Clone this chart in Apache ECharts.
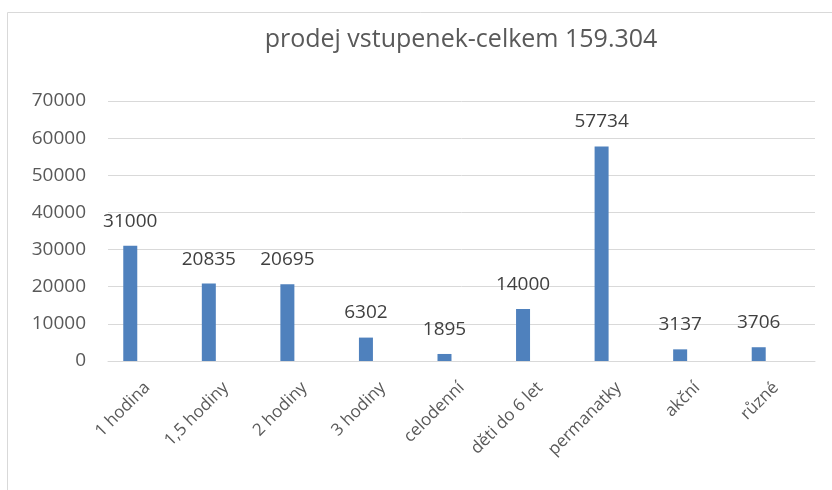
<!DOCTYPE html>
<html>
<head>
<meta charset="utf-8">
<script src="https://cdn.jsdelivr.net/npm/echarts@6/dist/echarts.min.js"></script>
<style>
  html, body { margin: 0; padding: 0; background: #fff; }
  #main { width: 832px; height: 490px; }
</style>
</head>
<body>
<div id="main"></div>
<script>
// kategorie a hodnoty
var categories = ['1 hodina', '1,5 hodiny', '2 hodiny', '3 hodiny', 'celodenní', 'děti do 6 let', 'permanatky', 'akční', 'různé'];
var prodej = [31000, 20835, 20695, 6302, 1895, 14000, 57734, 3137, 3706];
// prázdná řada, v originále posouvá sloupce doleva
var prazdna = [null, null, null, null, null, null, null, null, null];
var yTicks = [0, 10000, 20000, 30000, 40000, 50000, 60000, 70000];

var font = '"Open Sans", "Noto Sans", sans-serif';
var chart = echarts.init(document.getElementById('main'));

chart.setOption({
  animation: false,
  graphic: [{
    type: 'rect',
    shape: { x: 7.5, y: 12.5, width: 900, height: 600 },
    style: { fill: 'none', stroke: '#d9d9d9', lineWidth: 1 },
    silent: true
  }],
  title: {
    text: 'prodej vstupenek-celkem 159.304',
    left: 456,
    textAlign: 'center',
    top: 22,
    textStyle: { fontFamily: font, fontWeight: 'normal', fontSize: 25, color: '#595959' }
  },
  grid: { left: 108, right: 17, top: 101, bottom: 129, containLabel: false },
  xAxis: {
    type: 'category',
    data: categories,
    axisLine: { lineStyle: { color: '#d9d9d9', width: 1 } },
    axisTick: { show: false },
    axisLabel: {
      rotate: 45, interval: 0, margin: 24,
      fontFamily: font, fontSize: 17, color: '#595959'
    }
  },
  yAxis: {
    type: 'value',
    min: yTicks[0],
    max: yTicks[yTicks.length - 1],
    interval: 10000,
    axisLine: { show: false },
    axisTick: { show: false },
    splitLine: { lineStyle: { color: '#d9d9d9', width: 1 } },
    axisLabel: {
      margin: 22, fontFamily: font, fontSize: 19, color: '#595959',
      formatter: function (v) { return String(v); }
    }
  },
  series: [
    {
      name: 'prodej',
      type: 'bar',
      data: prodej,
      barWidth: 14,
      barGap: '143%',
      itemStyle: { color: '#4f81bd' },
      label: {
        show: true, position: 'top', distance: 15,
        fontFamily: font, fontSize: 19, color: '#404040'
      }
    },
    {
      name: 'prazdna',
      type: 'bar',
      data: prazdna,
      barWidth: 14
    }
  ]
});
</script>
</body>
</html>
